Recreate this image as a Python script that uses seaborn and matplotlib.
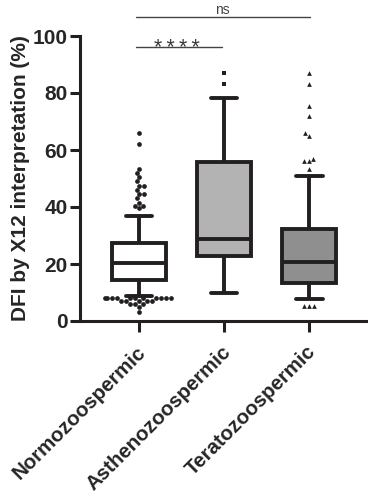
import matplotlib
matplotlib.use("Agg")
import matplotlib.pyplot as plt
import matplotlib.transforms as mtransforms
import pandas as pd
import seaborn as sns

# summary stats (whiskers at percentiles, not Tukey)
groups = ["Normozoospermic", "Asthenozoospermic", "Teratozoospermic"]
whisker_low = [8.6, 9.7, 7.7]
q1 = [14.4, 22.8, 13.2]
median = [20.2, 28.7, 20.8]
q3 = [27.5, 55.8, 32.4]
whisker_high = [37.0, 78.1, 51.0]

# points beyond the whiskers
normo_outliers = [66, 62, 53.5, 52, 50.5, 49, 47.5, 47.5, 46, 44.5, 44.5, 43, 41.5, 40.5, 40.5, 39.5,
                  8, 8, 8, 8, 8, 8, 8, 8, 8, 8, 8, 7, 7, 7, 7, 7, 6, 6, 6, 5, 3]
astheno_outliers = [87, 83]
terato_outliers = [87, 83, 75.5, 72, 66, 65, 57, 56, 56, 53.5, 5.3, 5.3, 5.3]

box_colors = ["#ffffff", "#b3b3b3", "#8f8f8f"]
markers = ["o", "s", "^"]
ink = "#231f20"

sns.set_style("ticks")
plt.rcParams["font.family"] = ["Liberation Sans", "DejaVu Sans"]
plt.rcParams["font.weight"] = "bold"

# five-number rows -> with whis=(0, 100) seaborn reproduces these stats exactly
rows = []
for g, lo, a, m, b, hi in zip(groups, whisker_low, q1, median, q3, whisker_high):
    for v in (lo, a, m, b, hi):
        rows.append({"group": g, "value": v})
box_df = pd.DataFrame(rows)

fig = plt.figure(figsize=(3.68, 5), dpi=100)
ax = fig.add_axes([80 / 368, 1 - 321 / 500, 287 / 368, 285 / 500])

sns.boxplot(data=box_df, x="group", y="value", hue="group", order=groups, hue_order=groups,
            palette=dict(zip(groups, box_colors)), whis=(0, 100), showfliers=False,
            width=0.63, linewidth=2.8, linecolor=ink, legend=False, ax=ax)

for g, vals, m in zip(groups, [normo_outliers, astheno_outliers, terato_outliers], markers):
    sub = pd.DataFrame({"group": g, "value": vals})
    sns.swarmplot(data=sub, x="group", y="value", order=groups, marker=m, color=ink,
                  size=3.4, linewidth=0, ax=ax)

ax.set_xlim(-0.694, 2.68)
ax.set_ylim(0, 100)
ax.set_yticks(range(0, 101, 20))
ax.set_xlabel("")
ax.set_ylabel("DFI by X12 interpretation (%)", fontsize=15, fontweight="bold", labelpad=2)

for side in ["top", "right"]:
    ax.spines[side].set_visible(False)
for side in ["left", "bottom"]:
    ax.spines[side].set_linewidth(2.2)
    ax.spines[side].set_color(ink)
ax.tick_params(axis="y", length=7, width=2.2, color=ink, labelsize=15, pad=2)
ax.tick_params(axis="x", length=8, width=2.2, color=ink, labelsize=14.8, pad=3)
ax.set_xticks(range(len(groups)))
ax.set_xticklabels(groups, rotation=45, ha="right", va="top", rotation_mode="anchor",
                   fontweight="bold")
shift = mtransforms.ScaledTranslation(-3 / 100, -6 / 100, fig.dpi_scale_trans)
for lab in ax.get_xticklabels():
    lab.set_transform(lab.get_transform() + shift)
for lab in ax.get_yticklabels():
    lab.set_fontweight("bold")

# significance brackets
ax.plot([-0.035, 0.976], [96, 96], color="#444444", lw=1, clip_on=False)
ax.text(0.45, 93.6, "*\u2009*\u2009*\u2009*", ha="center", va="baseline", fontsize=15.5,
        fontweight="normal", color="#3a3a3a")
ax.plot([-0.035, 2.01], [106.5, 106.5], color="#444444", lw=1, clip_on=False)
ax.text(0.98, 106.8, "ns", ha="center", va="bottom", fontsize=10, fontweight="normal",
        color="#444444", clip_on=False)

fig.savefig("out.png", dpi=100)
plt.close(fig)
